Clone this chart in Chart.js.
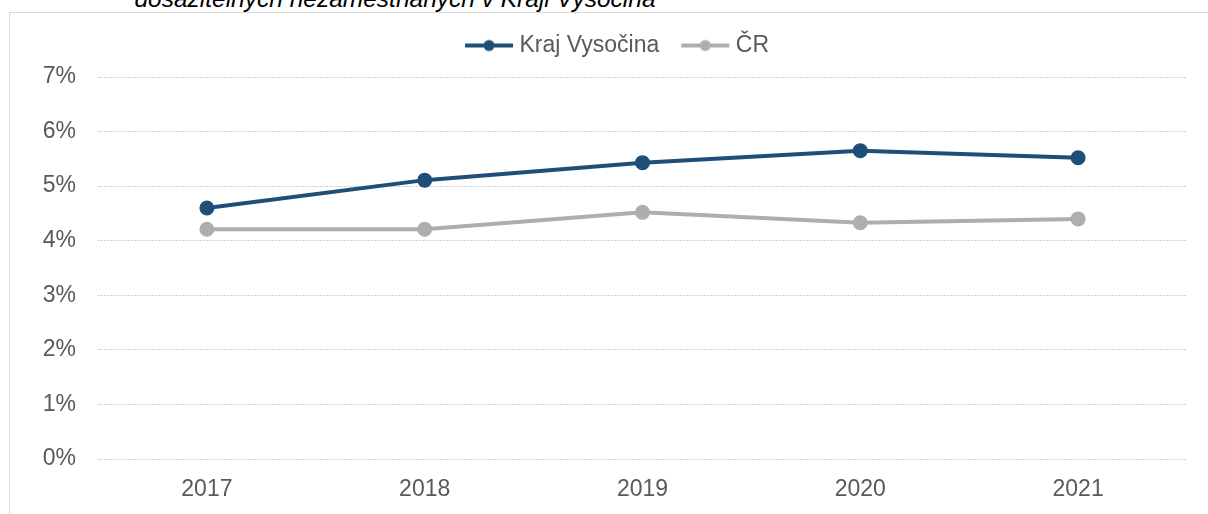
<!DOCTYPE html>
<html>
<head>
<meta charset="utf-8">
<script src="https://cdn.jsdelivr.net/npm/chart.js@4"></script>
<style>
  html, body { margin: 0; padding: 0; background: #fff; overflow: hidden; }
  #wrap { position: relative; width: 1208px; height: 514px; }
  #frame { position: absolute; left: 9px; top: 12px; width: 1300px; height: 600px;
           border-top: 1px solid #d9d9d9; border-left: 1px solid #d9d9d9; }
  #title { position: absolute; left: 0; width: 790px; top: -13px; text-align: center;
           font: italic 24.5px "Liberation Sans", Arial, sans-serif; color: #000; line-height: 24px; }
  canvas { position: absolute; left: 0; top: 0; }
</style>
</head>
<body>
<div id="wrap">
  <div id="frame"></div>
  <div id="title">dosažitelných nezaměstnaných v Kraji Vysočina</div>
  <canvas id="chart" width="1208" height="514"></canvas>
</div>
<script>
const years = ['2017', '2018', '2019', '2020', '2021'];
const krajVysocina = [4.60, 5.11, 5.43, 5.65, 5.52];
const cr = [4.21, 4.21, 4.52, 4.33, 4.40];
const yTicks = [0, 1, 2, 3, 4, 5, 6, 7];

const BLUE = '#1f4e79';
const GRAY = '#b0adad';
const TEXT = '#595959';
const FONT = '"Liberation Sans", Arial, sans-serif';

// legend marker: short line with a dot in the middle
function legendMarker(color) {
    const c = document.createElement('canvas');
    c.width = 62; c.height = 14;
    const g = c.getContext('2d');
    g.strokeStyle = color;
    g.lineWidth = 4;
    g.beginPath(); g.moveTo(12, 7); g.lineTo(60, 7); g.stroke();
    g.fillStyle = color;
    g.beginPath(); g.arc(36, 7, 5.5, 0, Math.PI * 2); g.fill();
    return c;
}
const markers = [legendMarker(BLUE), legendMarker(GRAY)];

// nudge legend to where it sits in the original
const shiftLegend = {
    id: 'shiftLegend',
    afterLayout(chart) {
        const lg = chart.legend;
        lg.left += 21; lg.right += 21;
        lg.top -= 10; lg.bottom -= 10;
    }
};

new Chart(document.getElementById('chart'), {
    type: 'line',
    data: {
        labels: years,
        datasets: [{
            label: 'Kraj Vysočina',
            data: krajVysocina,
            borderColor: BLUE,
            backgroundColor: BLUE,
            borderWidth: 4,
            pointRadius: 5.5,
            pointHoverRadius: 5.5
        }, {
            label: 'ČR',
            data: cr,
            borderColor: GRAY,
            backgroundColor: GRAY,
            borderWidth: 4,
            pointRadius: 5.5,
            pointHoverRadius: 5.5
        }]
    },
    plugins: [shiftLegend],
    options: {
        responsive: false,
        animation: false,
        layout: { padding: { left: 0, right: 21, top: 27, bottom: 0 } },
        plugins: {
            legend: {
                position: 'top',
                labels: {
                    usePointStyle: true,
                    pointStyleWidth: 48,
                    boxHeight: 12,
                    padding: 17,
                    color: TEXT,
                    font: { family: FONT, size: 23 },
                    generateLabels(chart) {
                        return chart.data.datasets.map((ds, i) => ({
                            text: ds.label,
                            fontColor: TEXT,
                            pointStyle: markers[i],
                            strokeStyle: ds.borderColor,
                            fillStyle: ds.borderColor,
                            lineWidth: 0,
                            datasetIndex: i
                        }));
                    }
                }
            },
            tooltip: { enabled: false }
        },
        scales: {
            x: {
                offset: true,
                afterFit(scale) { scale.height = 55; },
                grid: { display: false, drawTicks: false },
                border: { display: false },
                ticks: { color: TEXT, font: { family: FONT, size: 23 }, padding: 17 }
            },
            y: {
                min: 0,
                max: 7,
                afterBuildTicks(scale) { scale.ticks = yTicks.map(v => ({ value: v })); },
                afterFit(scale) { scale.width = 98; },
                grid: { color: '#d0d0d0', lineWidth: 1, drawTicks: false },
                border: { display: false, dash: [2, 1] },
                ticks: {
                    color: TEXT,
                    font: { family: FONT, size: 23 },
                    padding: 22,
                    callback: v => v + '%'
                }
            }
        }
    }
});
</script>
</body>
</html>
